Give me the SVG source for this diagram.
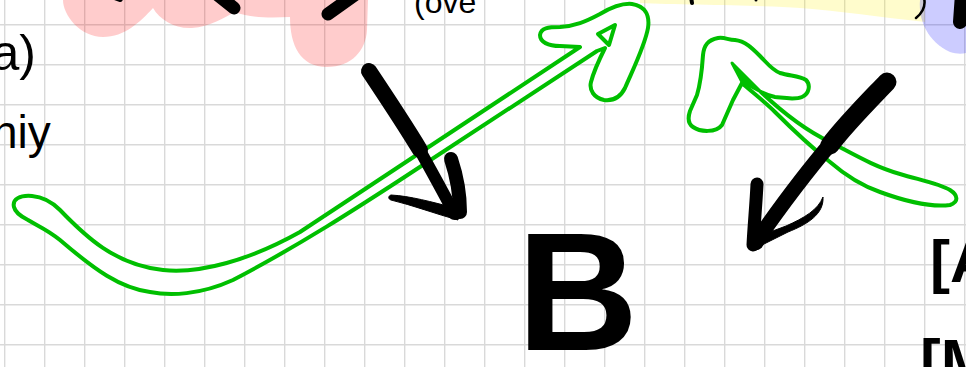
<svg xmlns="http://www.w3.org/2000/svg" width="966" height="367" viewBox="0 0 966 367">
<defs>
<pattern id="grid" x="4" y="24" width="40" height="40" patternUnits="userSpaceOnUse">
<path d="M0,0 V40 M0,0 H40" fill="none" stroke="#d9d9d9" stroke-width="2.8"/>
</pattern>
<style>
.ink{fill:none;stroke:#000;stroke-linecap:round;stroke-linejoin:round}
.inkf{fill:#000;stroke:#000;stroke-width:1;stroke-linejoin:round}
.hl{stroke:none}
.gr{fill:#fff;stroke:#00bf00;stroke-width:4;stroke-linejoin:round;stroke-linecap:round}
.txt{font-family:"Liberation Sans",Arial,sans-serif;fill:#000}
</style>
</defs>
<rect width="966" height="367" fill="#fff"/>
<rect width="966" height="367" fill="url(#grid)"/>

<g id="highlights">
<path class="hl" fill="#ff0000" fill-opacity="0.2" d="M63,0 C63,15 80,37 103,37 C125,37 140,22 153,8 C160,20 175,29 192,28 C210,27 225,17 235,12 C250,18 270,18 290,17 C290,45 300,67 327,67 C352,67 366,50 367,30 L368,0 Z"/>
<path class="hl" fill="#ffee00" fill-opacity="0.2" d="M640,0 L640,3 C680,5 760,5 800,8 C840,11 880,17 925,22 L925,0 Z"/>
<path class="hl" fill="#0000ff" fill-opacity="0.2" d="M920,0 C918,20 928,42 950,52 C956,54 962,54 966,53 L966,0 Z"/>
</g>

<g id="node-top-left">
<path class="ink" stroke-width="13" d="M214,-8 L234,8"/>
<path class="ink" stroke-width="13" d="M356,-6 L328,14"/>
<path class="ink" stroke-width="6" d="M112,-4 L120,-1"/>
</g>

<g id="node-top-right">
<path class="ink" stroke-width="4" d="M691,-3 L692,3"/>
<path class="ink" stroke-width="3" d="M756,-3 L756,0"/>
<path class="ink" stroke-width="2.5" d="M924,-2 C926,6 922,13 916,18"/>
<path class="ink" stroke-width="14" d="M962,-6 L960,22"/>
</g>

<g id="label-a">
<text class="txt" x="36" y="70" font-size="50" text-anchor="end">a)</text>
</g>
<g id="label-ity">
<text class="txt" x="-8" y="148" font-size="46">hiy</text>
</g>
<g id="label-ove">
<text class="txt" x="414" y="13" font-size="32">(ove</text>
</g>
<g id="node-B">
<text class="txt" x="517" y="350" font-size="168" font-weight="bold">B</text>
</g>
<g id="label-A">
<text class="txt" x="930" y="282" font-size="60" font-weight="bold">[A</text>
</g>
<g id="label-M">
<text class="txt" x="920" y="382" font-size="62" font-weight="bold">[M</text>
</g>

<g id="connectors">
<g id="green-arrow-1">
<path class="gr" d="M14,207 C12,199 20,195 32,196 C44,197 52,202 60,210 C85,236 115,265 163,270 C200,274 250,260 300,232 L580,47 L560,46 C548,46 540,42 540,35 C541,28 548,27 560,27 C575,26 585,22 600,14 C612,7 622,3 632,4 C645,6 650,15 648,28 C645,45 635,65 625,88 C620,98 612,101 604,100 C594,98 589,90 591,82 C594,70 600,58 605,48 L597,51 L400,180 C360,206 300,245 233,280 C200,295 170,296 150,292 C120,288 95,270 60,240 C48,230 38,226 28,220 C20,216 15,212 14,207 Z"/>
<path class="gr" stroke-width="3" d="M598,34 L615,25 L609,45 Z"/>
</g>
<g id="green-arrow-2">
<path class="gr" d="M693,127 C687,123 688,117 690,111 L697,95 C700,85 702,70 703,55 C704,45 708,40 718,38 C725,37 728,40 735,40 C745,41 752,48 760,56 C767,63 772,70 780,73 C790,76 800,76 806,80 C811,85 809,94 802,97 C795,100 785,98 775,97 C770,96 765,94 761,92 C780,110 805,130 830,142 C855,155 875,167 900,174 C920,180 940,184 950,190 C958,195 959,202 950,205 C935,207 910,203 880,192 C860,185 845,175 830,162 C815,150 795,132 775,112 C765,102 752,92 742,83 L733,100 L722,125 C716,133 700,132 693,127 Z"/>
<path d="M761,92 L732,63 L742,82 Z" fill="#00bf00" stroke="#00bf00" stroke-width="3" stroke-linejoin="round"/>
</g>
<g id="black-arrow-1">
<path class="ink" stroke-width="16" d="M369,71 C385,95 405,125 420,150"/>
<path class="ink" stroke-width="12" d="M418,147 C432,172 443,192 454,213"/>
<path class="ink" stroke-width="14" d="M451,159 C456,174 460,194 460,212"/>
<path class="inkf" d="M391,195 C410,196 432,202 455,208 L458,220 C436,214 412,205 391,200 C388,199 388,196 391,195 Z"/>
<circle cx="455" cy="212" r="8"/>
</g>
<g id="black-arrow-2">
<path class="ink" stroke-width="19" d="M887,82 C865,105 845,125 830,145"/>
<path class="ink" stroke-width="15" d="M832,142 C808,170 785,200 755,243"/>
<path class="ink" stroke-width="13" d="M757,184 C756,205 754,225 753,245"/>
<path class="inkf" d="M823,197 C824,214 808,224 788,232 L758,247 L754,238 L786,226 C804,218 818,210 823,197 Z"/>
<circle cx="756" cy="242" r="8"/>
</g>
</g>
</svg>
